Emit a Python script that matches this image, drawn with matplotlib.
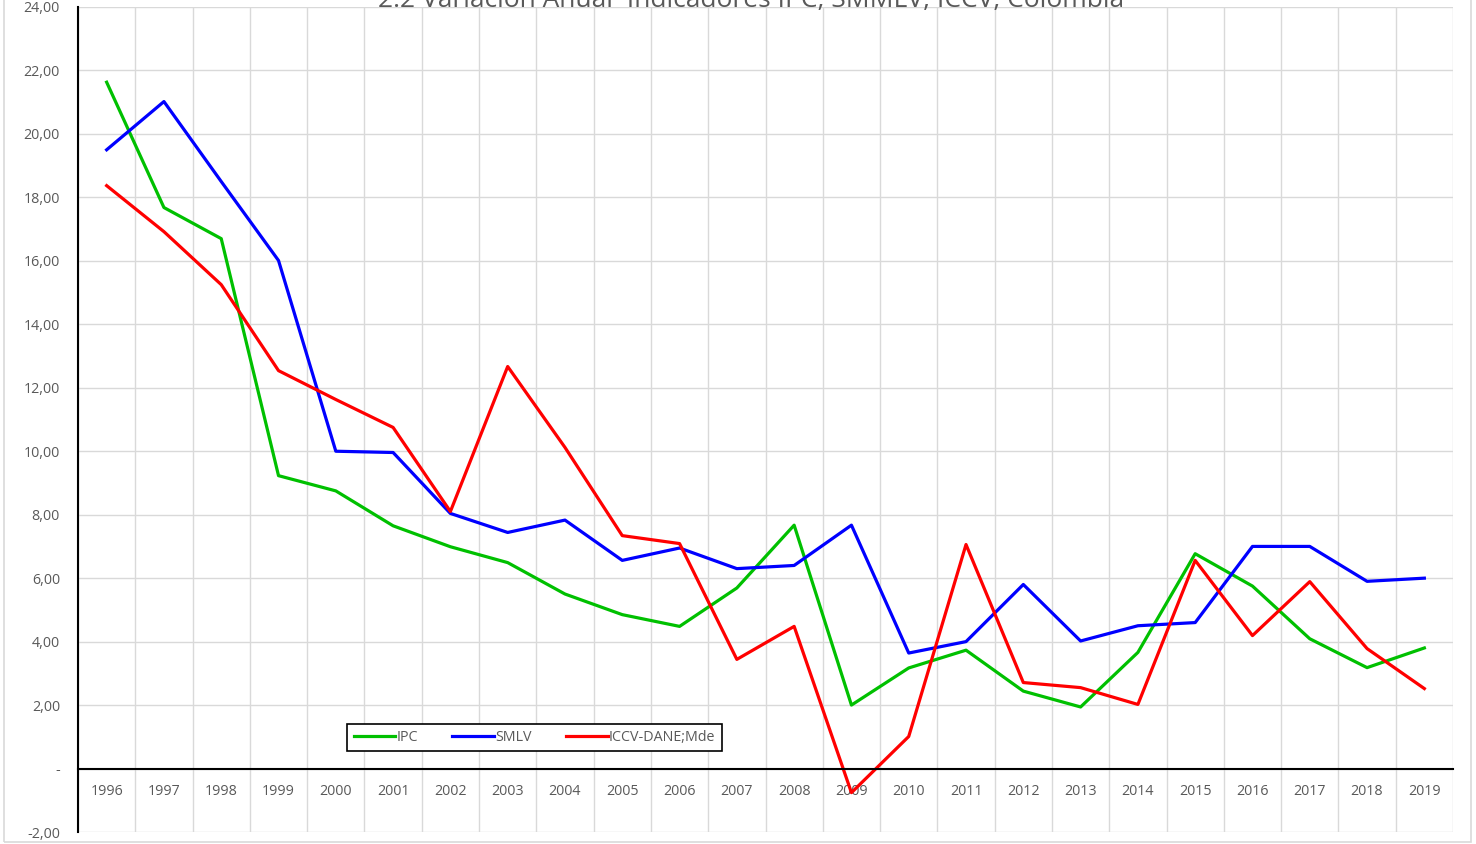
import matplotlib.pyplot as plt
import matplotlib.ticker as mticker
from matplotlib.patches import Rectangle

years = [str(y) for y in range(1996, 2020)]
ipc = [21.63, 17.68, 16.70, 9.23, 8.75, 7.65, 6.99, 6.49, 5.50, 4.85, 4.48, 5.69,
       7.67, 2.00, 3.17, 3.73, 2.44, 1.94, 3.66, 6.77, 5.75, 4.09, 3.18, 3.80]
smlv = [19.50, 21.02, 18.50, 16.01, 10.00, 9.96, 8.04, 7.44, 7.83, 6.56, 6.95, 6.30,
        6.40, 7.67, 3.64, 4.00, 5.80, 4.02, 4.50, 4.60, 7.00, 7.00, 5.90, 6.00]
iccv = [18.37, 16.92, 15.25, 12.54, 11.63, 10.75, 8.10, 12.67, 10.12, 7.34, 7.09, 3.44,
        4.48, -0.76, 1.01, 7.06, 2.71, 2.55, 2.02, 6.56, 4.19, 5.89, 3.78, 2.52]

plt.rcParams['font.family'] = ['Open Sans', 'DejaVu Sans']

fig = plt.figure(figsize=(14.76, 8.44), dpi=100)
ax = fig.add_axes([78/1476, 1 - 832/844, (1453-78)/1476, (832-7)/844])

x = list(range(len(years)))
ax.plot(x, ipc, color='#00C000', lw=2.3, label='IPC')
ax.plot(x, smlv, color='#0000FF', lw=2.3, label='SMLV')
ax.plot(x, iccv, color='#FF0000', lw=2.3, label='ICCV-DANE;Mde')

ax.set_xlim(-0.5, len(years) - 0.5)
ax.set_ylim(-2, 24)
ax.set_yticks(range(-2, 25, 2))

def fmt(v, pos):
    if abs(v) < 1e-9:
        return '-'
    return ('%.2f' % v).replace('.', ',')
ax.yaxis.set_major_formatter(mticker.FuncFormatter(fmt))

ax.set_xticks(x)
ax.set_xticklabels(years)
ax.set_xticks([i - 0.5 for i in range(len(years) + 1)], minor=True)
ax.tick_params(axis='x', which='both', length=0, pad=11, labelsize=10.3, labelcolor='#595959')
ax.tick_params(axis='y', length=0, pad=13, labelsize=10.3, labelcolor='#595959')

ax.grid(axis='y', color='#D9D9D9', lw=1)
ax.grid(axis='x', which='minor', color='#D9D9D9', lw=1)
ax.grid(axis='x', which='major', visible=False)
ax.set_axisbelow(True)

ax.spines['bottom'].set_position(('data', 0))
ax.spines['bottom'].set_color('black')
ax.spines['bottom'].set_linewidth(1.5)
ax.spines['left'].set_color('black')
ax.spines['left'].set_linewidth(1.5)
ax.spines['top'].set_visible(False)
ax.spines['right'].set_visible(False)

leg = fig.legend(loc='center', bbox_to_anchor=(534.5/1476, 1 - 737.5/844), ncol=3,
                 fancybox=False, edgecolor='black', framealpha=1, fontsize=10.3,
                 handlelength=2.9, handletextpad=0.1, columnspacing=2.4,
                 borderpad=0.45, borderaxespad=0)
for t in leg.get_texts():
    t.set_color('#595959')
leg.get_frame().set_linewidth(1.2)

fig.text(751/1476, 1.0, '2.2 Variación Anual  Indicadores IPC, SMMLV, ICCV, Colombia',
         ha='center', va='center', fontsize=19, color='#595959')

fig.patches.append(Rectangle((4/1476, 2/844), 1467/1476, 1.2, transform=fig.transFigure,
                             fill=False, edgecolor='#D9D9D9', lw=1.2))

fig.savefig('out.png', dpi=100)
